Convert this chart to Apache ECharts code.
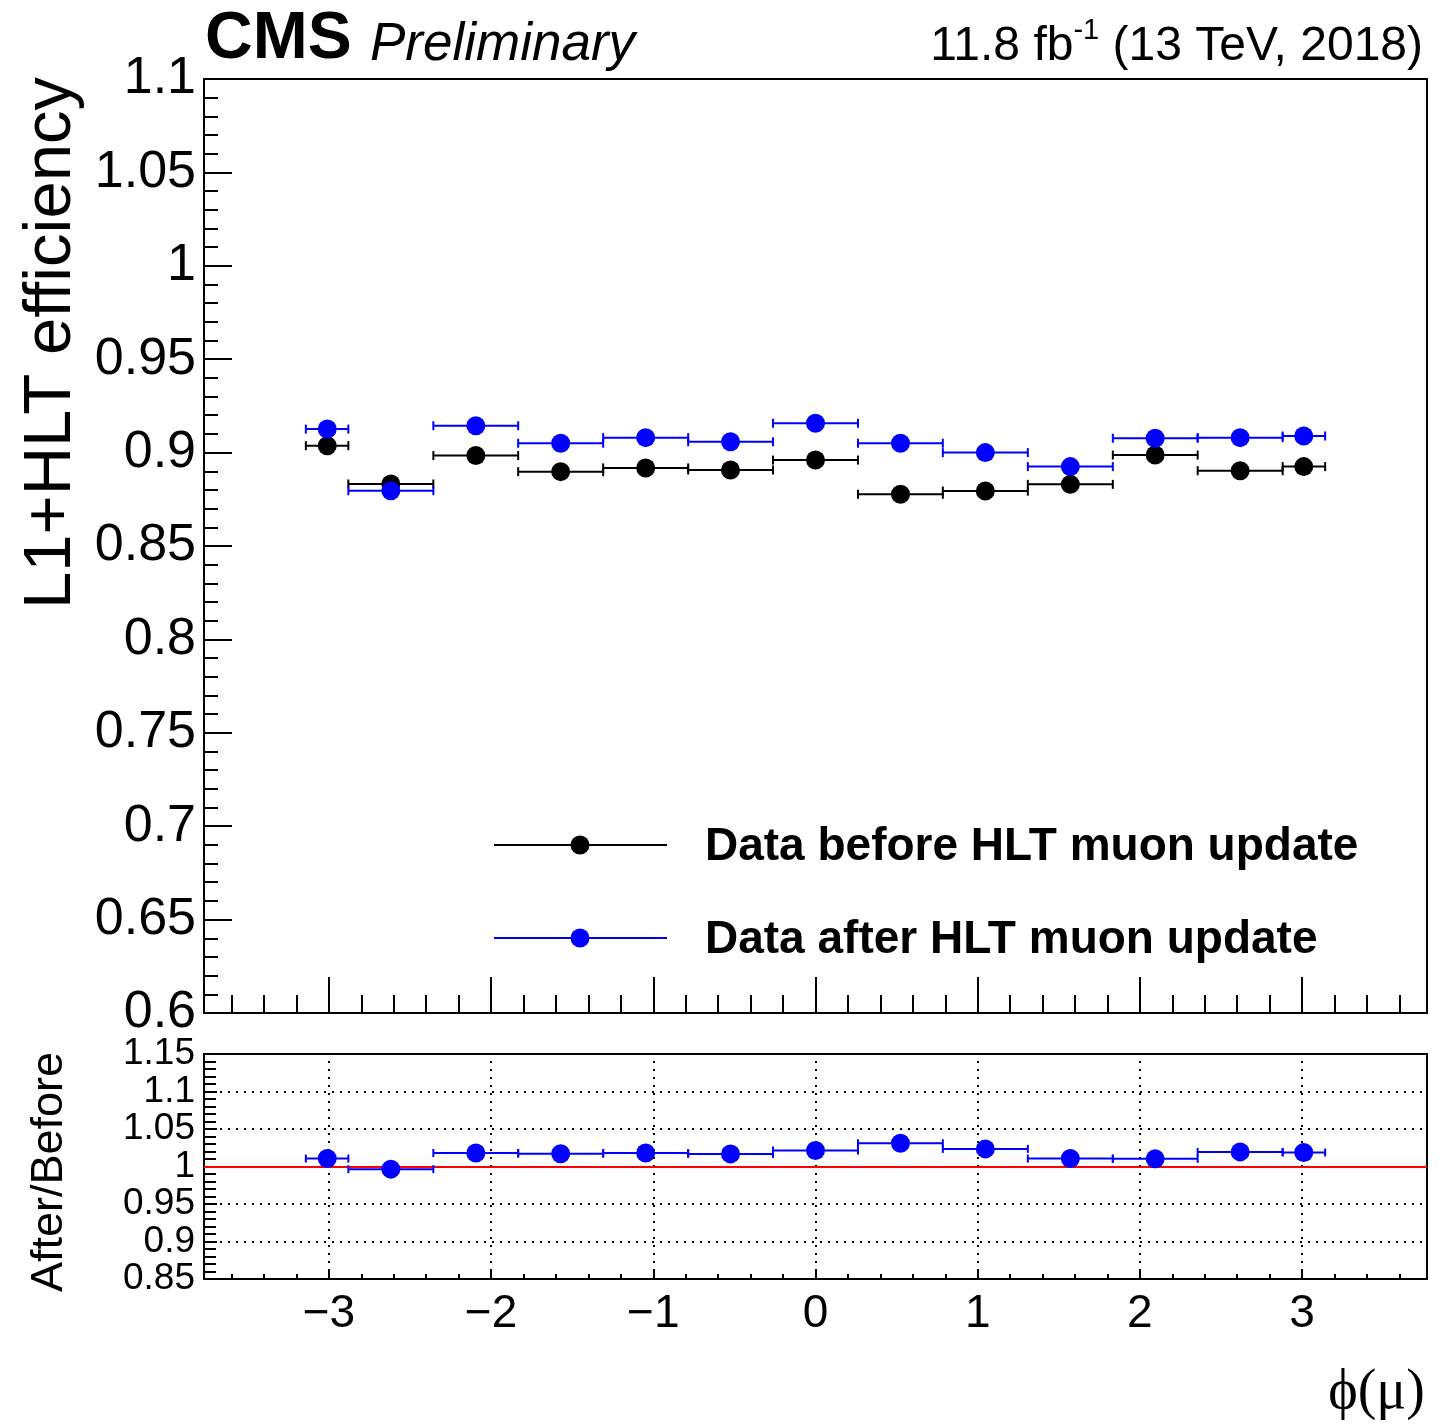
<!DOCTYPE html>
<html>
<head>
<meta charset="utf-8">
<script src="https://cdn.jsdelivr.net/npm/echarts@6/dist/echarts.min.js"></script>
<style>
html,body{margin:0;padding:0;background:#fff;}
#chart{width:1455px;height:1424px;}
</style>
</head>
<body>
<div id="chart"></div>
<script>
// ---- data ----
const binCenter = [-3.010, -2.618, -2.094, -1.571, -1.047, -0.524, 0.000, 0.524, 1.047, 1.571, 2.094, 2.618, 3.010];
const binLow    = [-3.142, -2.880, -2.356, -1.833, -1.309, -0.785, -0.262, 0.262, 0.785, 1.309, 1.833, 2.356, 2.880];
const binHigh   = [-2.880, -2.356, -1.833, -1.309, -0.785, -0.262, 0.262, 0.785, 1.309, 1.833, 2.356, 2.880, 3.142];
const effBefore = [0.9037, 0.8832, 0.8984, 0.8898, 0.8918, 0.8907, 0.8960, 0.8777, 0.8794, 0.8830, 0.8987, 0.8903, 0.8925];
const effAfter  = [0.9126, 0.8796, 0.9144, 0.9050, 0.9080, 0.9058, 0.9157, 0.9050, 0.9000, 0.8925, 0.9077, 0.9080, 0.9089];
const ratioAfterBefore = [1.0106, 0.9965, 1.0180, 1.0170, 1.0180, 1.0168, 1.0213, 1.0310, 1.0235, 1.0106, 1.0102, 1.0195, 1.0186];

const xMajorTicks = [-3, -2, -1, 0, 1, 2, 3];
const xMinorTicks = [-3.6, -3.4, -3.2, -2.8, -2.6, -2.4, -2.2, -1.8, -1.6, -1.4, -1.2, -0.8, -0.6, -0.4, -0.2,
                     0.2, 0.4, 0.6, 0.8, 1.2, 1.4, 1.6, 1.8, 2.2, 2.4, 2.6, 2.8, 3.2, 3.4, 3.6];
const xRange = [-3.7699, 3.7699];
const seriesNames = ['Data before HLT muon update', 'Data after HLT muon update'];

const FONT = 'Liberation Sans, Arial, Helvetica, sans-serif';
const DOTS = [2, 6];

function rows(vals) {
  return binCenter.map((c, i) => [c, binLow[i], binHigh[i], vals[i]]);
}

function makeRender(radius, cap, lw) {
  return function (params, api) {
    const x = api.value(0), lo = api.value(1), hi = api.value(2), y = api.value(3);
    const c = api.coord([x, y]);
    const l = api.coord([lo, y]);
    const r = api.coord([hi, y]);
    const color = api.visual('color');
    const st = { stroke: color, lineWidth: lw };
    return {
      type: 'group',
      children: [
        { type: 'line', shape: { x1: l[0], y1: l[1], x2: r[0], y2: r[1] }, style: st },
        { type: 'line', shape: { x1: l[0], y1: l[1] - cap, x2: l[0], y2: l[1] + cap }, style: st },
        { type: 'line', shape: { x1: r[0], y1: r[1] - cap, x2: r[0], y2: r[1] + cap }, style: st },
        { type: 'circle', shape: { cx: c[0], cy: c[1], r: radius }, style: { fill: color } }
      ]
    };
  };
}

const chart = echarts.init(document.getElementById('chart'), null, { renderer: 'canvas' });

const minus = v => String(v).replace('-', '\u2212');
const noLine = { show: false, onZero: false };

const option = {
  animation: false,
  backgroundColor: '#fff',
  grid: [
    { left: 204, right: 28, top: 79, height: 934, show: true, borderColor: '#000', borderWidth: 2, backgroundColor: 'transparent' },
    { left: 204, right: 28, top: 1054, height: 225, show: true, borderColor: '#000', borderWidth: 2, backgroundColor: 'transparent' }
  ],
  xAxis: [
    { // main, major ticks
      type: 'value', gridIndex: 0, min: xRange[0], max: xRange[1], position: 'bottom',
      axisLine: noLine,
      axisLabel: { show: false },
      splitLine: { show: false },
      axisTick: { show: true, inside: true, length: 36, customValues: xMajorTicks, lineStyle: { color: '#000', width: 2 } }
    },
    { // main, minor ticks
      type: 'value', gridIndex: 0, min: xRange[0], max: xRange[1], position: 'bottom',
      axisLine: noLine,
      axisLabel: { show: false },
      splitLine: { show: false },
      axisTick: { show: true, inside: true, length: 18, customValues: xMinorTicks, lineStyle: { color: '#000', width: 2 } }
    },
    { // ratio, major ticks + labels
      type: 'value', gridIndex: 1, min: xRange[0], max: xRange[1], position: 'bottom',
      axisLine: noLine,
      splitLine: { show: false },
      axisLabel: { show: true, customValues: xMajorTicks, fontSize: 46, fontFamily: FONT, color: '#000', margin: 12,
                   formatter: v => minus(Math.round(v)) },
      axisTick: { show: true, inside: true, length: 10, customValues: xMajorTicks, lineStyle: { color: '#000', width: 2 } }
    },
    { // ratio, minor ticks
      type: 'value', gridIndex: 1, min: xRange[0], max: xRange[1], position: 'bottom',
      axisLine: noLine,
      axisLabel: { show: false },
      splitLine: { show: false },
      axisTick: { show: true, inside: true, length: 5, customValues: xMinorTicks, lineStyle: { color: '#000', width: 2 } }
    }
  ],
  yAxis: [
    {
      type: 'value', gridIndex: 0, min: 0.6, max: 1.1, interval: 0.05, position: 'left',
      axisLine: noLine,
      splitLine: { show: false },
      axisLabel: { fontSize: 52, fontFamily: FONT, color: '#000', margin: 8 },
      axisTick: { show: true, inside: true, length: 28, lineStyle: { color: '#000', width: 2 } },
      minorTick: { show: true, splitNumber: 5, length: 14, lineStyle: { color: '#000', width: 2 } }
    },
    {
      type: 'value', gridIndex: 1, min: 0.85, max: 1.15, interval: 0.05, position: 'left',
      axisLine: noLine,
      splitLine: { show: true, showMinLine: false, showMaxLine: false, lineStyle: { color: '#000', width: 2, type: DOTS } },
      axisLabel: { fontSize: 37, fontFamily: FONT, color: '#000', margin: 9 },
      axisTick: { show: true, inside: true, length: 13, lineStyle: { color: '#000', width: 2 } },
      minorTick: { show: true, splitNumber: 5, length: 12, lineStyle: { color: '#000', width: 2 } }
    }
  ],
  series: [
    {
      name: seriesNames[0], type: 'custom', xAxisIndex: 0, yAxisIndex: 0, z: 3,
      itemStyle: { color: '#000000' },
      renderItem: makeRender(9.5, 4.5, 2),
      data: rows(effBefore), silent: true
    },
    {
      name: seriesNames[1], type: 'custom', xAxisIndex: 0, yAxisIndex: 0, z: 4,
      itemStyle: { color: '#0000ff' },
      renderItem: makeRender(9.5, 4.5, 2),
      data: rows(effAfter), silent: true
    },
    {
      name: 'After/Before', type: 'custom', xAxisIndex: 2, yAxisIndex: 1, z: 4,
      itemStyle: { color: '#0000ff' },
      renderItem: makeRender(9.5, 4, 2),
      data: rows(ratioAfterBefore), silent: true,
      markLine: {
        silent: true, symbol: 'none', z: 1, animation: false,
        label: { show: false },
        emphasis: { disabled: true },
        data: [
          ...xMajorTicks.map(v => ({ xAxis: v, lineStyle: { color: '#000', width: 2, type: DOTS } })),
          { yAxis: 1, lineStyle: { color: '#ff0000', width: 2, type: 'solid' } }
        ]
      }
    }
  ],
  graphic: [
    { type: 'text', x: 205, y: 40, style: { text: 'CMS', fontSize: 66, fontWeight: 'bold', fontFamily: FONT, fill: '#000', textAlign: 'left', textVerticalAlign: 'middle' } },
    { type: 'text', x: 370, y: 45, style: { text: 'Preliminary', fontSize: 53, fontStyle: 'italic', fontFamily: FONT, fill: '#000', textAlign: 'left', textVerticalAlign: 'middle' } },
    { type: 'text', x: 1423, y: 47, style: {
        text: '{n|11.8 fb}{s|-1}{n| (13 TeV, 2018)}', textAlign: 'right', textVerticalAlign: 'middle', fill: '#000',
        rich: {
          n: { fontSize: 48, fontFamily: FONT, lineHeight: 62, fill: '#000' },
          s: { fontSize: 29, fontFamily: FONT, verticalAlign: 'top', fill: '#000' }
        } } },
    { type: 'text', x: 52, y: 343, rotation: Math.PI / 2, style: { text: 'L1+HLT efficiency', fontSize: 67, fontFamily: FONT, fill: '#000', textAlign: 'center', textVerticalAlign: 'middle' } },
    { type: 'text', x: 50, y: 1172, rotation: Math.PI / 2, style: { text: 'After/Before', fontSize: 45, fontFamily: FONT, fill: '#000', textAlign: 'center', textVerticalAlign: 'middle' } },
    { type: 'text', x: 1425, y: 1393, style: { text: '\u03d5(\u03bc)', fontSize: 56, fontFamily: 'Liberation Serif, DejaVu Serif, serif', fill: '#000', textAlign: 'right', textVerticalAlign: 'middle' } },
    // legend
    { type: 'line', shape: { x1: 494, y1: 845, x2: 667, y2: 845 }, style: { stroke: '#000', lineWidth: 2 } },
    { type: 'circle', shape: { cx: 580, cy: 845, r: 9.5 }, style: { fill: '#000' } },
    { type: 'text', x: 705, y: 847, style: { text: seriesNames[0], fontSize: 46, fontWeight: 'bold', fontFamily: FONT, fill: '#000', textAlign: 'left', textVerticalAlign: 'middle' } },
    { type: 'line', shape: { x1: 494, y1: 938, x2: 667, y2: 938 }, style: { stroke: '#0000ff', lineWidth: 2 } },
    { type: 'circle', shape: { cx: 580, cy: 938, r: 9.5 }, style: { fill: '#0000ff' } },
    { type: 'text', x: 705, y: 940, style: { text: seriesNames[1], fontSize: 46, fontWeight: 'bold', fontFamily: FONT, fill: '#000', textAlign: 'left', textVerticalAlign: 'middle' } }
  ]
};

chart.setOption(option);
</script>
</body>
</html>
